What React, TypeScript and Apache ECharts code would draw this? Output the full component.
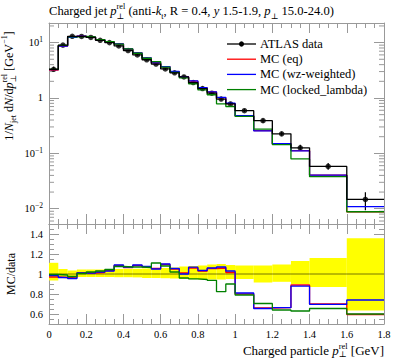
import React, { useEffect, useRef } from 'react';
import * as echarts from 'echarts';

// ---- data ----
const binEdges = [0, 0.05, 0.1, 0.15, 0.2, 0.25, 0.3, 0.35, 0.4, 0.45, 0.5, 0.55, 0.6, 0.65, 0.7, 0.75, 0.8, 0.85, 0.9, 0.95, 1.0, 1.1, 1.2, 1.3, 1.4, 1.6, 1.8];
const atlasData = [3.3, 9.0, 13.0, 12.9, 12.4, 11.0, 10.0, 8.7, 7.2, 6.0, 4.9, 4.1, 3.35, 2.85, 2.4, 1.9, 1.48, 1.22, 0.955, 0.78, 0.59, 0.39, 0.225, 0.126, 0.058, 0.0147];
const relErrUp = [0.112, 0.05, 0.035, 0.045, 0.045, 0.045, 0.045, 0.05, 0.05, 0.052, 0.055, 0.055, 0.06, 0.065, 0.075, 0.08, 0.085, 0.095, 0.1, 0.09, 0.085, 0.085, 0.095, 0.13, 0.16, 0.357];
const relErrDown = [0.065, 0.04, 0.028, 0.03, 0.03, 0.03, 0.03, 0.032, 0.032, 0.034, 0.04, 0.04, 0.042, 0.045, 0.05, 0.052, 0.055, 0.055, 0.055, 0.05, 0.05, 0.085, 0.078, 0.1, 0.13, 0.364];
const ratioEq = [0.97, 0.965, 0.96, 1.01, 1.01, 1.015, 1.035, 1.085, 1.065, 1.085, 1.07, 1.055, 1.095, 1.05, 1.01, 1.06, 1.03, 1.055, 1.06, 1.015, 0.8, 0.66, 0.665, 0.89, 0.7, 0.595];
const ratioWz = [0.985, 0.965, 0.955, 1.01, 1.008, 1.02, 1.03, 1.09, 1.07, 1.09, 1.075, 1.05, 1.1, 1.055, 1.0, 1.068, 1.035, 1.06, 1.07, 1.03, 0.81, 0.655, 0.663, 0.878, 0.697, 0.74];
const ratioLocked = [0.995, 0.99, 0.975, 1.005, 1.02, 1.03, 1.045, 1.075, 1.07, 1.07, 1.065, 1.11, 1.08, 1.02, 0.96, 0.952, 0.945, 0.937, 0.823, 0.9, 0.79, 0.705, 0.64, 0.63, 0.655, 0.6];
const logDecadeLabels: Record<string, string> = {
  '-2': '{b|10}{s|−2}',
  '-1': '{b|10}{s|−1}',
  '0': '{b|1}',
  '1': '{b|10}{s|1}',
};
const logMinorTicks = [
  0.006, 0.007, 0.008, 0.009,
  0.02, 0.03, 0.04, 0.05, 0.06, 0.07, 0.08, 0.09,
  0.2, 0.3, 0.4, 0.5, 0.6, 0.7, 0.8, 0.9,
  2, 3, 4, 5, 6, 7, 8, 9, 20,
];
const legendNames = ['ATLAS data', 'MC (eq)', 'MC (wz-weighted)', 'MC (locked_lambda)'];
const legendColors = ['#000000', '#ff0000', '#0000ff', '#008000'];

// ---- styling ----
const SERIF = '"Liberation Serif", "DejaVu Serif", serif';
const AX = '#999999';
const W = 397;
const H = 358;

const steps = (vals: number[]) =>
  vals.flatMap((v, i) => [[binEdges[i], v], [binEdges[i + 1], v]]);
const mcFromRatio = (r: number[]) => r.map((x, i) => x * atlasData[i]);
const centers = atlasData.map((_, i) => (binEdges[i] + binEdges[i + 1]) / 2);

const richBase = (fs: number, lh: number) => ({
  n: { fontFamily: SERIF, fontSize: fs, lineHeight: lh, fill: '#000', align: 'left' },
  i: { fontFamily: SERIF, fontSize: fs, lineHeight: lh, fontStyle: 'italic', fill: '#000', align: 'left' },
  sp: { fontFamily: SERIF, fontSize: fs * 0.65, verticalAlign: 'top', fill: '#000', align: 'left' },
  sb: { fontFamily: SERIF, fontSize: fs * 0.65, verticalAlign: 'bottom', fill: '#000', align: 'left' },
  z: { fontFamily: SERIF, fontSize: fs * 0.65, verticalAlign: 'bottom', width: 0, fill: '#000', align: 'left' },
});

const xAxisBase = (gridIndex: number, position: string, labels: boolean) => ({
  gridIndex,
  type: 'value',
  min: 0,
  max: 1.8,
  interval: 0.2,
  position,
  axisLine: { show: true, onZero: false, lineStyle: { color: AX, width: 1 } },
  axisTick: { show: true, inside: true, length: 10, lineStyle: { color: AX } },
  minorTick: { show: true, splitNumber: 4, length: 5, lineStyle: { color: AX } },
  splitLine: { show: false },
  minorSplitLine: { show: false },
  axisLabel: {
    show: labels,
    margin: 5,
    fontFamily: SERIF,
    fontSize: 10.5,
    color: '#000',
  },
});

export default function App() {
  const ref = useRef<HTMLDivElement>(null);
  useEffect(() => {
    if (!ref.current) return;
    const chart = echarts.init(ref.current, undefined, { renderer: 'svg', width: W, height: H });

    const mcSeries = (name: string, vals: number[], color: string, xi: number, yi: number) => ({
      name,
      type: 'line',
      xAxisIndex: xi,
      yAxisIndex: yi,
      data: steps(vals),
      symbol: 'none',
      silent: true,
      lineStyle: { color, width: 1.3 },
      itemStyle: { color },
    });

    const option: any = {
      animation: false,
      backgroundColor: '#fff',
      grid: [
        { left: 49, top: 23, width: 335, height: 201, outerBoundsMode: 'none' },
        { left: 49, top: 224, width: 335, height: 100, outerBoundsMode: 'none' },
      ],
      xAxis: [
        xAxisBase(0, 'bottom', false),
        xAxisBase(0, 'top', false),
        xAxisBase(1, 'bottom', true),
        xAxisBase(1, 'top', false),
      ],
      yAxis: [
        {
          gridIndex: 0,
          type: 'log',
          logBase: 10,
          min: 0.0053,
          max: 22.6,
          position: 'left',
          axisLine: { show: true, onZero: false, lineStyle: { color: AX } },
          axisTick: { show: true, inside: true, length: 10, lineStyle: { color: AX } },
          splitLine: { show: false },
          axisLabel: {
            show: true,
            margin: 6,
            showMinLabel: false,
            showMaxLabel: false,
            formatter: (v: number) => {
              const l = Math.log10(v);
              const e = Math.round(l);
              if (Math.abs(l - e) > 1e-6) return '';
              return logDecadeLabels[String(e)] || '';
            },
            rich: {
              b: { fontFamily: SERIF, fontSize: 10.5, color: '#000', lineHeight: 14 },
              s: { fontFamily: SERIF, fontSize: 7.5, color: '#000', verticalAlign: 'top' },
            },
          },
        },
        {
          gridIndex: 0,
          type: 'log',
          logBase: 10,
          min: 0.0053,
          max: 22.6,
          position: 'right',
          axisLine: { show: true, onZero: false, lineStyle: { color: AX } },
          axisTick: { show: true, inside: true, length: 10, lineStyle: { color: AX } },
          splitLine: { show: false },
          axisLabel: { show: false },
        },
        {
          gridIndex: 1,
          type: 'value',
          min: 0.5,
          max: 1.5,
          splitNumber: 5,
          position: 'left',
          axisLine: { show: true, onZero: false, lineStyle: { color: AX } },
          axisTick: { show: true, inside: true, length: 10, lineStyle: { color: AX } },
          minorTick: { show: true, splitNumber: 4, length: 5, lineStyle: { color: AX } },
          splitLine: { show: false },
          axisLabel: {
            show: true,
            margin: 6,
            showMinLabel: false,
            showMaxLabel: false,
            fontFamily: SERIF,
            fontSize: 10.5,
            color: '#000',
          },
        },
        {
          gridIndex: 1,
          type: 'value',
          min: 0.5,
          max: 1.5,
          splitNumber: 5,
          position: 'right',
          axisLine: { show: true, onZero: false, lineStyle: { color: AX } },
          axisTick: { show: true, inside: true, length: 10, lineStyle: { color: AX } },
          minorTick: { show: true, splitNumber: 4, length: 5, lineStyle: { color: AX } },
          splitLine: { show: false },
          axisLabel: { show: false },
        },
      ],
      series: [
        // log minor ticks
        {
          type: 'custom',
          xAxisIndex: 0,
          yAxisIndex: 0,
          silent: true,
          data: logMinorTicks.map((v) => [0, v]),
          renderItem: (params: any, api: any) => {
            const v = api.value(1);
            const l = api.coord([0, v]);
            const r = api.coord([1.8, v]);
            return {
              type: 'group',
              children: [
                { type: 'line', shape: { x1: l[0], y1: l[1], x2: l[0] + 5, y2: l[1] }, style: { stroke: AX, lineWidth: 1 } },
                { type: 'line', shape: { x1: r[0], y1: r[1], x2: r[0] - 5, y2: r[1] }, style: { stroke: AX, lineWidth: 1 } },
              ],
            };
          },
        },
        mcSeries('MC (eq)', mcFromRatio(ratioEq), '#ff0000', 0, 0),
        mcSeries('MC (wz-weighted)', mcFromRatio(ratioWz), '#0000ff', 0, 0),
        mcSeries('MC (locked_lambda)', mcFromRatio(ratioLocked), '#008000', 0, 0),
        {
          name: 'ATLAS data',
          type: 'line',
          xAxisIndex: 0,
          yAxisIndex: 0,
          data: steps(atlasData),
          symbol: 'none',
          silent: true,
          lineStyle: { color: '#000', width: 1.3 },
        },
        {
          type: 'custom',
          xAxisIndex: 0,
          yAxisIndex: 0,
          silent: true,
          data: atlasData.map((v, i) => [centers[i], v * (1 - relErrDown[i]), v * (1 + relErrUp[i])]),
          encode: { x: 0, y: [1, 2] },
          renderItem: (params: any, api: any) => {
            const x = api.value(0);
            const a = api.coord([x, api.value(1)]);
            const b = api.coord([x, api.value(2)]);
            return { type: 'line', shape: { x1: a[0], y1: a[1], x2: b[0], y2: b[1] }, style: { stroke: '#000', lineWidth: 1.2 } };
          },
        },
        {
          type: 'scatter',
          xAxisIndex: 0,
          yAxisIndex: 0,
          silent: true,
          symbol: 'circle',
          symbolSize: 5.5,
          itemStyle: { color: '#000' },
          data: atlasData.map((v, i) => [centers[i], v]),
        },
        // ratio panel
        {
          type: 'custom',
          xAxisIndex: 2,
          yAxisIndex: 2,
          silent: true,
          data: atlasData.map((_, i) => [binEdges[i], binEdges[i + 1], 1 + relErrUp[i], 1 - relErrDown[i]]),
          encode: { x: [0, 1], y: [2, 3] },
          renderItem: (params: any, api: any) => {
            const p1 = api.coord([api.value(0), api.value(2)]);
            const p2 = api.coord([api.value(1), api.value(3)]);
            return {
              type: 'rect',
              shape: { x: p1[0], y: p1[1], width: p2[0] - p1[0], height: p2[1] - p1[1] },
              style: { fill: '#ffff00', stroke: 'none' },
            };
          },
        },
        {
          type: 'line',
          xAxisIndex: 2,
          yAxisIndex: 2,
          data: steps(atlasData.map((v) => v / v)),
          symbol: 'none',
          silent: true,
          lineStyle: { color: '#777700', width: 1 },
        },
        mcSeries('r-eq', ratioEq, '#ff0000', 2, 2),
        mcSeries('r-wz', ratioWz, '#0000ff', 2, 2),
        mcSeries('r-locked', ratioLocked, '#008000', 2, 2),
      ],
      graphic: [
        {
          type: 'text',
          x: 49,
          y: 11,
          style: {
            text: '{n|Charged jet }{i|p}{z|⊥}{sp|rel}{n| (anti-}{i|k}{sb|t}{n|, R = 0.4, }{i|y}{n| 1.5-1.9, }{i|p}{sb|⊥}{n| 15.0-24.0)}',
            rich: richBase(12.6, 18),
            align: 'left',
            verticalAlign: 'middle',
          },
        },
        {
          type: 'text',
          x: 9,
          y: 86,
          rotation: Math.PI / 2,
          style: {
            text: '{n|1/}{i|N}{sb|jet}{n| d}{i|N}{n|/d}{i|p}{z|⊥}{sp|rel}{n| [GeV}{sp|−1}{n|]}',
            rich: richBase(12.2, 17),
            align: 'center',
            verticalAlign: 'middle',
          },
        },
        {
          type: 'text',
          x: 11,
          y: 274,
          rotation: Math.PI / 2,
          style: {
            text: '{n|MC/data}',
            rich: richBase(12, 15),
            align: 'center',
            verticalAlign: 'middle',
          },
        },
        {
          type: 'text',
          x: 384,
          y: 350,
          style: {
            text: '{n|Charged particle }{i|p}{z|⊥}{sp|rel}{n| [GeV]}',
            rich: richBase(13, 16.5),
            align: 'right',
            verticalAlign: 'middle',
          },
        },
        ...legendNames.flatMap((name, k) => {
          const y = 44 + k * 15.2;
          const items: any[] = [
            { type: 'line', shape: { x1: 227, y1: y, x2: 256, y2: y }, style: { stroke: legendColors[k], lineWidth: 1.3 } },
            {
              type: 'text',
              x: 260,
              y,
              style: { text: name, fontFamily: SERIF, fontSize: 12.5, fill: '#000', align: 'left', verticalAlign: 'middle' },
            },
          ];
          if (k === 0) {
            items.push({ type: 'circle', shape: { cx: 241.5, cy: y, r: 2.6 }, style: { fill: '#000' } });
          }
          return items;
        }),
      ],
    };
    chart.setOption(option);
    return () => chart.dispose();
  }, []);
  return <div ref={ref} style={{ position: 'fixed', left: 0, top: 0, width: W, height: H }} />;
}
